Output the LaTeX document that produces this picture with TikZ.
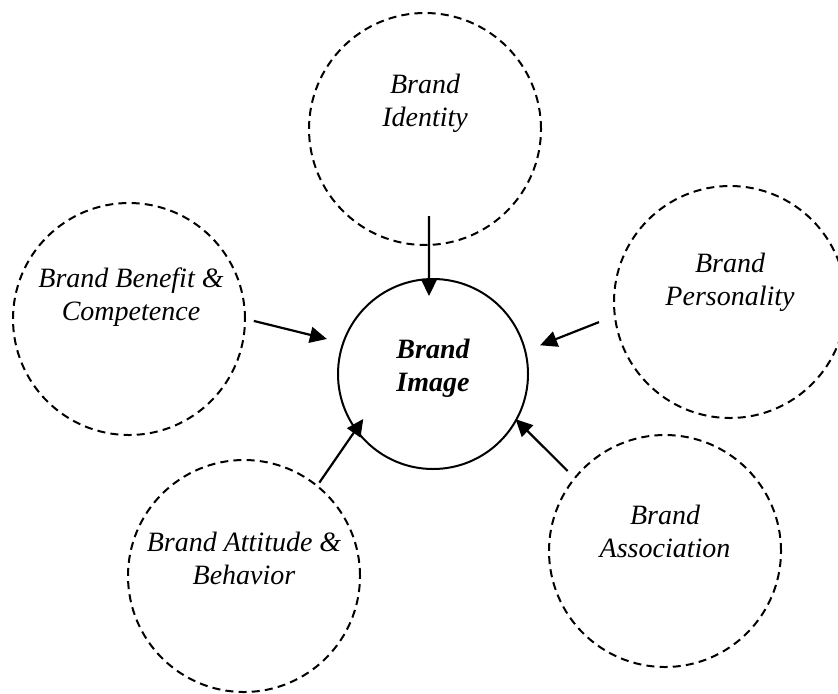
\documentclass[tikz,border=0pt]{standalone}
\usepackage{fontspec}
\setmainfont{Liberation Serif}
\usepackage{tikz}
\usetikzlibrary{arrows.meta}

\begin{document}
\begin{tikzpicture}[x=25pt, y=25pt,
    satellite/.style={circle, draw, line width=1pt, dash pattern=on 4pt off 2.6pt, minimum size=116pt, inner sep=0pt},
    core/.style={circle, draw, line width=1pt, minimum size=95pt, inner sep=0pt},
    caption/.style={align=center, font=\fontsize{14}{16.5}\selectfont\itshape},
    corecaption/.style={align=center, font=\fontsize{14}{16.5}\selectfont\bfseries\itshape},
    arr/.style={line width=1.1pt, -{Triangle[length=8.5pt,width=8pt]}}]
    \useasboundingbox (0,0) rectangle (16.76,13.86);

    % Centre
    \node[core, label={[corecaption, yshift=3pt]center:Brand\\Image}] (img) at (8.66,6.38) {};

    % Dimensions
    \node[satellite, label={[caption, yshift=13pt]center:Brand\\Identity}] (ident) at (8.50,11.28) {};
    \node[satellite, label={[caption, yshift=11pt, xshift=1pt]center:Brand Benefit \&\\Competence}] (ben) at (2.58,7.48) {};
    \node[satellite, label={[caption, yshift=10pt]center:Brand\\Personality}] (pers) at (14.60,7.82) {};
    \node[satellite, label={[caption, yshift=9pt]center:Brand Attitude \&\\Behavior}] (att) at (4.88,2.34) {};
    \node[satellite, label={[caption, yshift=10pt]center:Brand\\Association}] (assoc) at (13.30,2.84) {};

    % Fleches
    \draw[arr, shorten <=-15pt, shorten >=-9pt] ([xshift=2pt]ident.south) -- ([xshift=-2pt]img.north);
    \draw[arr, shorten <=4pt, shorten >=7.9pt] (ben.east) -- (img.161);
    \draw[arr, shorten <=8pt, shorten >=7.5pt] (pers.187) -- (img.14);
    \draw[arr, shorten <=1.5pt, shorten >=-7pt] (att.51) -- (img.216);
    \draw[arr, shorten <=4.5pt, shorten >=-1pt] (assoc.141) -- (img.-29);
\end{tikzpicture}
\end{document}
